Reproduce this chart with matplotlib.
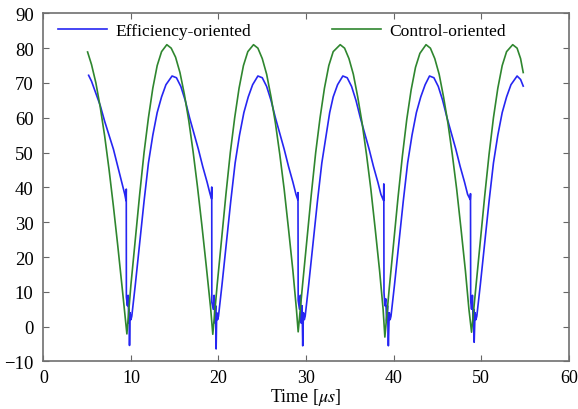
import matplotlib
matplotlib.use('Agg')
import matplotlib.pyplot as plt

# Control-oriented (green) trace
t_ctrl = [5.05, 5.5, 6.0, 6.5, 7.0, 7.5, 8.0, 8.5, 9.0, 9.54,
          10.0, 10.5, 11.0, 11.5, 12.0, 12.5, 13.0, 13.5, 14.1,
          14.6, 15.1, 15.6, 16.1, 16.6, 17.1, 17.6, 18.1, 18.6, 19.1, 19.35,
          19.85, 20.35, 20.85, 21.35, 21.85, 22.35, 22.85, 23.35, 24.0,
          24.5, 25.0, 25.5, 26.0, 26.5, 27.0, 27.5, 28.0, 28.5, 28.9, 29.1,
          29.6, 30.1, 30.6, 31.1, 31.6, 32.1, 32.6, 33.1, 33.9,
          34.4, 34.9, 35.4, 35.9, 36.4, 36.9, 37.4, 37.9, 38.4, 38.8, 39.0,
          39.5, 40.0, 40.5, 41.0, 41.5, 42.0, 42.5, 43.0, 43.7,
          44.2, 44.7, 45.2, 45.7, 46.2, 46.7, 47.2, 47.7, 48.2, 48.6, 48.9,
          49.4, 49.9, 50.4, 50.9, 51.4, 51.9, 52.4, 52.9, 53.6,
          54.1, 54.5, 54.8]
v_ctrl = [78.9, 75.3, 70.0, 63.0, 54.8, 45.2, 34.6, 23.2, 11.2, -2.1,
          12.0, 25.0, 38.0, 50.0, 60.0, 68.5, 75.0, 79.0, 81.0,
          80.0, 77.4, 73.0, 66.8, 59.3, 50.3, 40.2, 29.2, 17.5, 5.4, -2.2,
          12.0, 25.0, 38.0, 50.0, 60.0, 68.5, 75.0, 79.0, 81.0,
          80.0, 77.0, 72.5, 66.0, 58.5, 49.5, 39.5, 28.0, 16.0, 5.0, -1.5,
          12.0, 25.0, 38.0, 50.0, 60.0, 68.5, 75.0, 79.0, 81.0,
          80.0, 77.0, 72.5, 66.0, 58.5, 49.5, 39.5, 28.0, 16.0, 5.0, -3.0,
          11.0, 24.0, 37.0, 49.0, 59.5, 68.0, 74.5, 78.5, 81.0,
          80.0, 77.0, 72.5, 66.0, 58.5, 49.5, 39.5, 28.0, 16.0, 5.0, -1.6,
          11.5, 24.5, 37.5, 49.5, 60.0, 68.5, 75.0, 79.0, 81.0,
          80.0, 77.0, 73.0]

# Efficiency-oriented (blue) trace
t_eff = [5.17, 5.5, 6.0, 6.5, 7.0, 7.5, 8.0, 8.5, 9.0, 9.3, 9.44, 9.47,
         9.48, 9.6, 9.68, 9.76, 9.8, 9.84, 9.9, 10.0,
         10.1, 10.5, 11.0, 11.5, 12.0, 12.5, 13.0, 13.5, 14.0, 14.7,
         15.2, 15.7, 16.2, 16.7, 17.2, 17.7, 18.2, 18.7, 19.0, 19.2, 19.23,
         19.24, 19.4, 19.5, 19.6, 19.68, 19.73, 19.8, 19.9,
         20.0, 20.4, 20.9, 21.4, 21.9, 22.4, 22.9, 23.4, 23.9, 24.5,
         25.0, 25.5, 26.0, 26.5, 27.0, 27.5, 28.0, 28.5, 28.85, 29.05, 29.08,
         29.1, 29.25, 29.35, 29.45, 29.55, 29.62, 29.7, 29.8,
         29.9, 30.3, 30.8, 31.3, 31.8, 32.3, 32.7, 33.1, 33.6, 34.2,
         34.7, 35.2, 35.7, 36.2, 36.7, 37.2, 37.7, 38.2, 38.55, 38.85, 38.88,
         38.9, 39.0, 39.1, 39.2, 39.3, 39.4, 39.5, 39.6,
         39.7, 40.1, 40.6, 41.1, 41.6, 42.1, 42.6, 43.1, 43.6, 44.1,
         44.6, 45.1, 45.6, 46.1, 46.6, 47.1, 47.6, 48.1, 48.45, 48.75, 48.78,
         48.8, 48.9, 49.0, 49.1, 49.15, 49.2, 49.3, 49.4,
         49.5, 49.9, 50.4, 50.9, 51.4, 51.9, 52.4, 52.9, 53.4, 54.1,
         54.5, 54.8]
v_eff = [72.2, 70.5, 67.0, 63.5, 59.0, 55.0, 51.0, 46.0, 41.0, 38.0, 36.2, 39.5,
         8.5, 6.0, 9.0, 1.0, 5.0, -5.4, 4.0, 2.0,
         3.0, 12.0, 24.0, 36.0, 47.0, 55.0, 61.5, 66.0, 69.5, 72.0,
         71.5, 69.0, 65.0, 60.0, 55.5, 51.0, 46.0, 41.5, 38.5, 36.7, 40.1,
         7.0, 5.0, 9.0, 1.0, 6.0, -6.4, 4.0, 2.0,
         3.0, 12.0, 24.0, 36.0, 47.0, 55.0, 61.5, 66.0, 69.5, 72.0,
         71.5, 69.0, 65.0, 60.0, 55.5, 51.0, 46.0, 41.5, 38.0, 36.5, 38.5,
         7.5, 5.0, 9.0, 1.0, 6.0, -5.5, 4.0, 2.0,
         3.0, 12.0, 24.0, 36.0, 47.0, 55.0, 61.5, 66.0, 69.5, 72.0,
         71.5, 69.0, 65.0, 60.0, 55.5, 51.0, 46.0, 41.5, 38.0, 36.2, 41.0,
         9.9, 6.0, 8.0, 1.5, 6.0, -5.5, 4.0, 2.0,
         3.0, 12.0, 24.0, 36.0, 47.0, 55.0, 61.5, 66.0, 69.5, 72.0,
         71.5, 69.0, 65.0, 60.0, 55.5, 51.0, 46.0, 41.5, 38.0, 36.5, 38.2,
         7.3, 5.0, 9.0, 1.0, 5.0, -4.5, 4.0, 2.0,
         3.0, 12.0, 24.0, 36.0, 47.0, 55.0, 61.5, 66.0, 69.5, 72.0,
         71.0, 69.1]

x_ticks = [0, 10, 20, 30, 40, 50, 60]
y_ticks = [-10, 0, 10, 20, 30, 40, 50, 60, 70, 80, 90]


def plot_traces():
    plt.rcParams['font.family'] = ['Liberation Serif', 'DejaVu Serif']
    plt.rcParams['mathtext.fontset'] = 'stix'
    plt.rcParams['font.size'] = 13

    fig = plt.figure(figsize=(5.78, 4.10), dpi=100)
    ax = fig.add_axes([0.075, 0.116, 0.909, 0.849])

    ax.plot(t_eff, v_eff, color='#2626f2', lw=1.2, label='Efficiency-oriented')
    ax.plot(t_ctrl, v_ctrl, color='#2f862f', lw=1.2, label='Control-oriented')

    ax.set_xlim(0, 60)
    ax.set_ylim(-10, 90)
    ax.set_xticks(x_ticks)
    ax.set_yticks(y_ticks)
    ax.tick_params(direction='in', top=True, right=True, length=4,
                   color='#666666', labelsize=13.5)
    ax.tick_params(axis='y', pad=7)
    ax.tick_params(axis='x', pad=5.5, labelsize=13)
    for s in ax.spines.values():
        s.set_color('#707070')
        s.set_linewidth(1.2)

    # etiqueta do eixo x, logo abaixo dos números
    ax.set_xlabel(r'Time [$\mu s$]', fontsize=13, labelpad=0)

    ax.legend(loc='upper left', bbox_to_anchor=(0.027, 0.972), ncol=2,
              frameon=False, handlelength=2.8, handletextpad=0.5,
              columnspacing=4.6, borderpad=0, borderaxespad=0, fontsize=12.6)

    plt.savefig('out.png', dpi=100)


if __name__ == '__main__':
    plot_traces()
